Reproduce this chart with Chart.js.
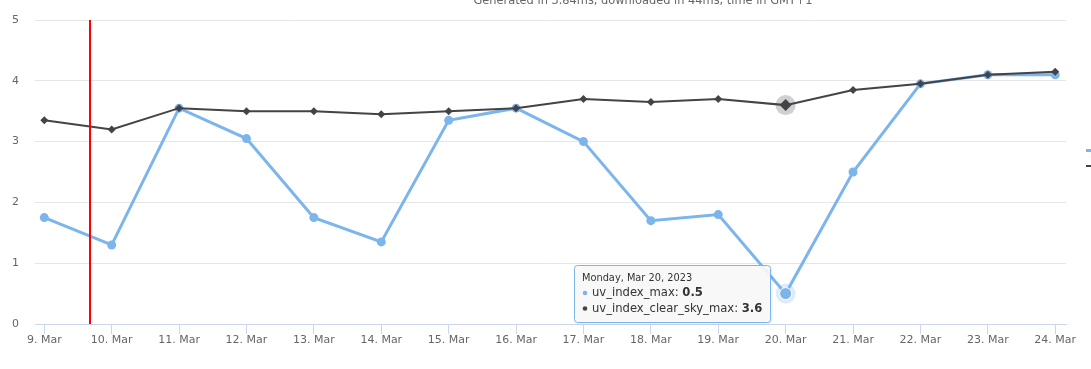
<!DOCTYPE html>
<html><head><meta charset="utf-8">
<script src="https://cdn.jsdelivr.net/npm/chart.js@4/dist/chart.umd.min.js"></script>
<style>html,body{margin:0;padding:0;background:#fff;overflow:hidden}#wrap{width:1091px;height:369px;position:relative}</style>
</head><body><div id="wrap"><canvas id="c" width="1091" height="369"></canvas></div>
<script>
const dates = ['2023-03-09','2023-03-10','2023-03-11','2023-03-12','2023-03-13','2023-03-14','2023-03-15','2023-03-16','2023-03-17','2023-03-18','2023-03-19','2023-03-20','2023-03-21','2023-03-22','2023-03-23','2023-03-24'];
const uvIndexMax = [1.75,1.3,3.55,3.05,1.75,1.35,3.35,3.55,3.0,1.7,1.8,0.5,2.5,3.95,4.1,4.1];
const uvIndexClearSkyMax = [3.35,3.2,3.55,3.5,3.5,3.45,3.5,3.55,3.7,3.65,3.7,3.6,3.85,3.95,4.1,4.15];
const yTicks = [0,1,2,3,4,5];
const seriesNames = ['uv_index_max','uv_index_clear_sky_max'];
const seriesColors = ['#7cb5ec','#434348'];
const subtitleText = 'Generated in 3.84ms, downloaded in 44ms, time in GMT+1';
const nowMarker = 0.68;   // days after first date
const hoverIndex = 11;

const FONT = '"DejaVu Sans", sans-serif';
const monthNames = ['Jan','Feb','Mar','Apr','May','Jun','Jul','Aug','Sep','Oct','Nov','Dec'];
const dayNames = ['Sunday','Monday','Tuesday','Wednesday','Thursday','Friday','Saturday'];
function parseD(s){const p=s.split('-').map(Number);return new Date(Date.UTC(p[0],p[1]-1,p[2]));}
const xLabels = dates.map(s=>{const d=parseD(s);return d.getUTCDate()+'. '+monthNames[d.getUTCMonth()];});
function headerFor(i){const d=parseD(dates[i]);return dayNames[d.getUTCDay()]+', '+monthNames[d.getUTCMonth()]+' '+d.getUTCDate()+', '+d.getUTCFullYear();}

const radii = (r,h)=>dates.map((_,i)=>i===hoverIndex?h:r);

const extras = {
  id:'extras',
  beforeDatasetsDraw(chart){
    const ctx=chart.ctx;
    chart.data.datasets.forEach((ds,di)=>{
      const el=chart.getDatasetMeta(di).data[hoverIndex];
      ctx.save();
      ctx.globalAlpha=0.25;
      ctx.fillStyle=seriesColors[di];
      ctx.beginPath();ctx.arc(el.x,el.y,10,0,Math.PI*2);ctx.fill();
      ctx.restore();
    });
  },
  afterDatasetsDraw(chart){
    const ctx=chart.ctx, a=chart.chartArea, xs=chart.scales.x;
    const px=Math.round(xs.getPixelForValue(nowMarker));
    ctx.save();
    ctx.strokeStyle='#ff0000';ctx.lineWidth=2;
    ctx.beginPath();ctx.moveTo(px,a.top);ctx.lineTo(px,a.bottom);ctx.stroke();
    ctx.restore();
  },
  afterDraw(chart){
    const ctx=chart.ctx;
    ctx.save();
    ctx.font='11.4px '+FONT;ctx.fillStyle='#666666';ctx.textAlign='center';ctx.textBaseline='alphabetic';
    ctx.fillText(subtitleText,643,4);
    [150.5,166].forEach((y,i)=>{ctx.strokeStyle=seriesColors[i];ctx.lineWidth=i?2:3;ctx.beginPath();ctx.moveTo(1086,y);ctx.lineTo(1100,y);ctx.stroke();});
    ctx.restore();
    // tooltip
    const p0=chart.getDatasetMeta(0).data[hoverIndex];
    const vals=[uvIndexMax[hoverIndex],uvIndexClearSkyMax[hoverIndex]];
    const header=headerFor(hoverIndex);
    ctx.save();
    const hFont='9.8px '+FONT, bFont='11.6px '+FONT, bbFont='bold 11.6px '+FONT;
    ctx.font=hFont;let w=ctx.measureText(header).width;
    const lines=seriesNames.map((n,i)=>{ctx.font=bFont;const a=ctx.measureText(n+': ').width;ctx.font=bbFont;const b=ctx.measureText(String(vals[i])).width;w=Math.max(w,10+a+b);return {n,a,v:String(vals[i])};});
    const bw=Math.round(w+16), bh=57;
    const right=Math.round(p0.x)-16, left=right-bw, top=Math.round(p0.y-bh/2);
    ctx.shadowColor='rgba(0,0,0,0.12)';ctx.shadowOffsetX=1;ctx.shadowOffsetY=1;ctx.shadowBlur=3;
    ctx.fillStyle='rgba(250,250,250,0.92)';
    ctx.beginPath();ctx.roundRect(left+0.5,top+0.5,bw,bh,3);ctx.fill();
    ctx.shadowColor='transparent';
    ctx.strokeStyle=seriesColors[0];ctx.lineWidth=1;ctx.stroke();
    ctx.fillStyle='#333333';ctx.textBaseline='middle';ctx.textAlign='left';
    ctx.font=hFont;ctx.fillText(header,left+8,top+13);
    lines.forEach((l,i)=>{
      const y=top+28+i*15.5;
      ctx.fillStyle=seriesColors[i];ctx.beginPath();ctx.arc(left+11,y,2.3,0,Math.PI*2);ctx.fill();
      ctx.fillStyle='#333333';ctx.font=bFont;ctx.fillText(l.n+': ',left+18,y);
      ctx.font=bbFont;ctx.fillText(l.v,left+18+l.a,y);
    });
    ctx.restore();
  }
};

new Chart(document.getElementById('c'),{
  type:'line',
  data:{datasets:[
    {label:seriesNames[0],data:uvIndexMax.map((v,i)=>({x:i,y:v})),borderColor:seriesColors[0],backgroundColor:seriesColors[0],borderWidth:3,pointRadius:radii(4.5,6),pointBorderColor:'#ffffff',pointBorderWidth:dates.map((_,i)=>i===hoverIndex?1:0),tension:0,order:1},
    {label:seriesNames[1],data:uvIndexClearSkyMax.map((v,i)=>({x:i,y:v})),borderColor:seriesColors[1],backgroundColor:seriesColors[1],borderWidth:2,pointStyle:'rectRot',pointRadius:radii(4,6),pointBorderWidth:0,tension:0,order:0}
  ]},
  options:{
    responsive:false,animation:false,devicePixelRatio:1,
    layout:{padding:{top:20,right:25,left:0,bottom:0}},
    plugins:{legend:{display:false},tooltip:{enabled:false}},
    events:[],
    scales:{
      x:{type:'linear',min:-0.138,max:15.16,
        afterBuildTicks:s=>{s.ticks=dates.map((_,i)=>({value:i}));},
        afterFit:s=>{s.height=45;s.paddingLeft=0;s.paddingRight=0;},
        ticks:{autoSkip:false,maxRotation:0,padding:0,color:'#666666',font:{family:FONT,size:11},callback:v=>xLabels[v]},
        grid:{drawOnChartArea:false,drawTicks:true,tickLength:10,color:'#ccd6eb'},
        border:{color:'#ccd6eb',width:1}},
      y:{min:0,max:5,
        afterBuildTicks:s=>{s.ticks=yTicks.map(v=>({value:v}));},
        afterFit:s=>{s.width=35;s.paddingTop=0;s.paddingBottom=0;},
        ticks:{padding:16,color:'#666666',font:{family:FONT,size:11}},
        grid:{color:'#e6e6e6',drawTicks:false},
        border:{display:false}}
    }
  },
  plugins:[extras]
});
</script></body></html>
